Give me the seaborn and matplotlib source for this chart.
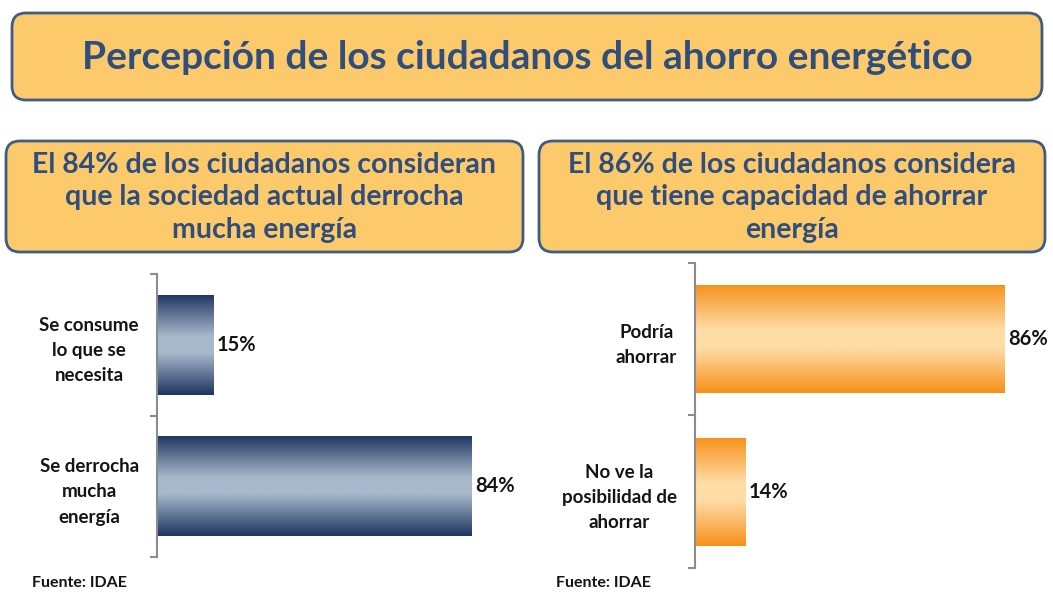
import numpy as np
import pandas as pd
import matplotlib
matplotlib.use("Agg")
import matplotlib.pyplot as plt
import seaborn as sns
from matplotlib.colors import LinearSegmentedColormap
from matplotlib.patches import FancyBboxPatch
from matplotlib.ticker import FixedLocator

# --- data ---
title = "Percepción de los ciudadanos del ahorro energético"
left_header = "El 84% de los ciudadanos consideran\nque la sociedad actual derrocha\nmucha energía"
right_header = "El 86% de los ciudadanos considera\nque tiene capacidad de ahorrar\nenergía"
left_cats = ["Se consume\nlo que se\nnecesita", "Se derrocha\nmucha\nenergía"]
left_vals = [15, 84]
right_cats = ["Podría\nahorrar", "No ve la\nposibilidad de\nahorrar"]
right_vals = [86, 14]
source = "Fuente: IDAE"

# --- style ---
sns.set_theme(style="white")
plt.rcParams['font.family'] = ['Lato', 'DejaVu Sans']

W, H = 1053, 592
BOX_FILL = "#FDCA6B"
BOX_EDGE = "#3D5C86"
HEAD_TEXT = "#2F4E7D"
LABEL_TEXT = "#141414"

blue_cmap = LinearSegmentedColormap.from_list(
    "blue", [(0, "#1D355F"), (0.42, "#A9B9CC"), (0.58, "#A9B9CC"), (1, "#1D355F")])
orange_cmap = LinearSegmentedColormap.from_list(
    "orange", [(0, "#F7911A"), (0.42, "#FEDDA6"), (0.58, "#FEDDA6"), (1, "#F7911A")])

fig = plt.figure(figsize=(W / 100, H / 100), dpi=100)

# background layer in pixel coordinates for the header boxes
bg = fig.add_axes([0, 0, 1, 1])
bg.set_xlim(0, W)
bg.set_ylim(H, 0)
bg.axis("off")


def header_box(x0, y0, x1, y1, text, size, ls=1.2):
    box = FancyBboxPatch((x0, y0), x1 - x0, y1 - y0,
                         boxstyle="round,pad=0,rounding_size=14",
                         facecolor=BOX_FILL, edgecolor=BOX_EDGE, linewidth=2.0)
    bg.add_patch(box)
    bg.text((x0 + x1) / 2, (y0 + y1) / 2 + 1, text, ha="center", va="center",
            multialignment="center", fontsize=size, fontweight="bold",
            color=HEAD_TEXT, linespacing=ls)


header_box(12, 13, 1042, 100, title, 28)
header_box(6, 141, 523, 252, left_header, 20.5, 1.32)
header_box(539, 141, 1045, 252, right_header, 20.5, 1.32)


def gradient_bars(ax, cmap):
    grad = np.linspace(0, 1, 256).reshape(-1, 1)
    for p in ax.patches:
        x0, y0 = p.get_x(), p.get_y()
        w, h = p.get_width(), p.get_height()
        im = ax.imshow(grad, cmap=cmap, aspect="auto", interpolation="bicubic",
                       extent=[x0, x0 + w, y0 + h, y0], zorder=2)
        im.set_clip_path(p)
        p.set_facecolor("none")
        p.set_edgecolor("none")


def panel(rect, cats, vals, cmap):
    ax = fig.add_axes(rect)
    df = pd.DataFrame({"cat": cats, "val": vals})
    sns.barplot(data=df, x="val", y="cat", orient="h", width=0.71, ax=ax,
                color="#999999")
    gradient_bars(ax, cmap)
    ax.set_xlim(0, 100)
    ax.set_ylim(1.5, -0.5)
    for s in ["top", "right", "bottom"]:
        ax.spines[s].set_visible(False)
    ax.spines["left"].set_color("#8C8C8C")
    ax.spines["left"].set_linewidth(1.5)
    ax.set_xticks([])
    ax.set_xlabel("")
    ax.set_ylabel("")
    ax.set_yticks(range(len(cats)))
    ax.set_yticklabels(cats, fontsize=13.5, fontweight="bold", color=LABEL_TEXT,
                       multialignment="center", linespacing=1.6)
    ax.tick_params(axis="y", which="major", length=0, pad=13)
    ax.yaxis.set_minor_locator(FixedLocator([-0.5, 0.5, 1.5]))
    ax.tick_params(axis="y", which="minor", length=5, width=1.5,
                   color="#8C8C8C", left=True)
    for i, v in enumerate(vals):
        ax.text(v + 1.0, i, f"{v}%", va="center", ha="left", fontsize=14.5,
                fontweight="bold", color=LABEL_TEXT)
    ax.patch.set_alpha(0)
    return ax


panel([157 / W, 1 - 557 / H, 375 / W, 283 / H], left_cats, left_vals, blue_cmap)
panel([695 / W, 1 - 568 / H, 360 / W, 305 / H], right_cats, right_vals, orange_cmap)

bg.text(32, 583, source, ha="left", va="center", fontsize=11.5, fontweight="bold", color=LABEL_TEXT)
bg.text(556, 583, source, ha="left", va="center", fontsize=11.5, fontweight="bold", color=LABEL_TEXT)

fig.savefig("out.png", dpi=100)
